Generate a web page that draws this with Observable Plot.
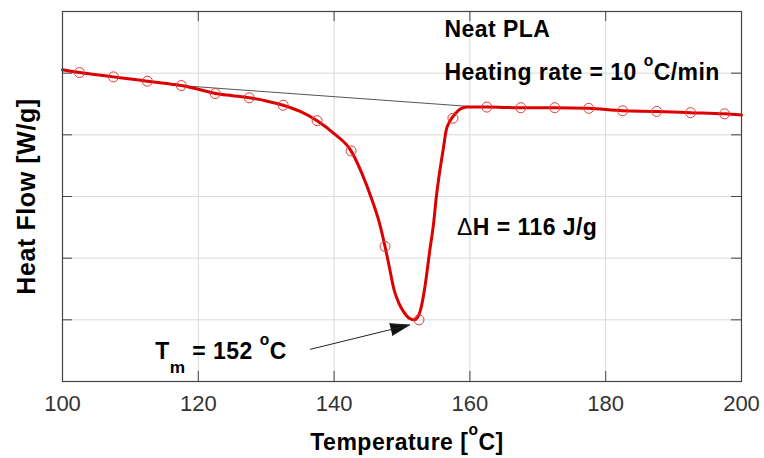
<!DOCTYPE html>
<html>
<head>
<meta charset="utf-8">
<script src="https://cdn.jsdelivr.net/npm/d3@7"></script>
<script src="https://cdn.jsdelivr.net/npm/@observablehq/plot@0.6"></script>
<style>
  body { margin: 0; background: #fff; }
  #chart { width: 764px; height: 458px; }
</style>
</head>
<body>
<div id="chart"></div>
<script>
// DSC curve of neat PLA (temperature in °C, heat flow in arbitrary grid units)
const curveT  = [100, 102.5, 105, 107.5, 110, 112.5, 115, 117.5, 120, 122.5, 125, 127.5, 130, 132.5, 135, 137.5, 140, 142.5, 144, 145.6, 146.6, 147.5, 148.2, 148.8, 149.5, 150.3, 151.0, 151.8, 152.3, 152.7, 153.3, 154.1, 154.7, 155.0, 155.66, 156.05, 156.5, 157.1, 157.9, 158.6, 159.6, 162.5, 167.5, 172.5, 177.5, 182.5, 187.5, 192.5, 197.5, 200];
const curveHF = [5.055, 5.01, 4.975, 4.94, 4.905, 4.87, 4.835, 4.80, 4.74, 4.67, 4.635, 4.60, 4.55, 4.48, 4.38, 4.23, 4.02, 3.74, 3.40, 2.94, 2.60, 2.19, 1.82, 1.50, 1.28, 1.12, 1.03, 1.00, 1.04, 1.15, 1.48, 2.13, 2.61, 2.94, 3.48, 3.75, 4.07, 4.23, 4.35, 4.42, 4.45, 4.45, 4.44, 4.44, 4.43, 4.39, 4.38, 4.36, 4.34, 4.32];

const markerT  = [102.5, 107.5, 112.5, 117.5, 122.5, 127.5, 132.5, 137.5, 142.5, 147.5, 152.5, 157.5, 162.5, 167.5, 172.5, 177.5, 182.5, 187.5, 192.5, 197.5];
const markerHF = [5.01, 4.94, 4.87, 4.80, 4.67, 4.60, 4.48, 4.23, 3.74, 2.19, 1.00, 4.27, 4.45, 4.44, 4.44, 4.43, 4.39, 4.38, 4.36, 4.34];

const baselineT  = [116, 160];
const baselineHF = [4.81, 4.46];

const xTicks = [100, 120, 140, 160, 180, 200];
const xGrid  = [120, 140, 160, 180];
const yGrid  = [1, 2, 3, 4, 5];
const xDomain = [100, 200];
const yDomain = [0, 6];

const xLabel = "Temperature [^{o}C]";
const yLabel = "Heat Flow [W/g]";

const noteText = ["Neat PLA", "Heating rate = 10 ^{o}C/min", "ΔH = 116 J/g", "T_{m} = 152 ^{o}C"];
const noteT    = [156.25, 156.25, 158.1, 113.65];
const noteHF   = [5.583, 4.882, 2.37, 0.36];

const arrowT1 = [136.5], arrowHF1 = [0.522];
const arrowT2 = [151.1], arrowHF2 = [0.916];

// ---- build tables ----
const curve = curveT.map((t, i) => ({t, hf: curveHF[i]}));
const markers = markerT.map((t, i) => ({t, hf: markerHF[i]}));
const baseline = baselineT.map((t, i) => ({t, hf: baselineHF[i]}));
const notes = noteText.map((s, i) => ({s, t: noteT[i], hf: noteHF[i]}));
const arrows = arrowT1.map((t, i) => ({t1: t, hf1: arrowHF1[i], t2: arrowT2[i], hf2: arrowHF2[i]}));

const W = 764, H = 458;
const mL = 62, mR = 23, mT = 11, mB = 77;
const tickPx = 10;
const tickDX = tickPx * (xDomain[1] - xDomain[0]) / (W - mL - mR);
const tickDY = tickPx * (yDomain[1] - yDomain[0]) / (H - mT - mB);
const axisColor = "#444";

const chart = Plot.plot({
  width: W, height: H,
  marginLeft: mL, marginRight: mR, marginTop: mT, marginBottom: mB,
  style: {fontFamily: "'Liberation Sans', Arial, sans-serif", background: "#fff", color: "#000", overflow: "visible"},
  x: {domain: xDomain},
  y: {domain: yDomain, axis: null},
  marks: [
    Plot.ruleX(xGrid, {x: d => d, stroke: "#dadada", strokeWidth: 1}),
    Plot.ruleY(yGrid, {y: d => d, stroke: "#dadada", strokeWidth: 1}),
    Plot.ruleX(xGrid, {x: d => d, y1: yDomain[0], y2: yDomain[0] + tickDY, stroke: axisColor}),
    Plot.ruleX(xGrid, {x: d => d, y1: yDomain[1] - tickDY, y2: yDomain[1], stroke: axisColor}),
    Plot.ruleY(yGrid, {y: d => d, x1: xDomain[0], x2: xDomain[0] + tickDX, stroke: axisColor}),
    Plot.ruleY(yGrid, {y: d => d, x1: xDomain[1] - tickDX, x2: xDomain[1], stroke: axisColor}),
    Plot.line(baseline, {x: "t", y: "hf", stroke: "#555", strokeWidth: 1}),
    Plot.line(curve, {x: "t", y: "hf", stroke: "#dd0000", strokeWidth: 3, curve: "monotone-x"}),
    Plot.dot(markers, {x: "t", y: "hf", r: 5, stroke: "#e03a3a", strokeWidth: 1, fill: "none"}),
    Plot.frame({stroke: axisColor, strokeWidth: 1.2}),
    Plot.axisX({ticks: xTicks, tickSize: 0, tickPadding: 14, fontSize: 22, fill: "#333", label: null}),
    Plot.arrow(arrows, {x1: "t1", y1: "hf1", x2: "t2", y2: "hf2", stroke: "#222", fill: "#111", strokeWidth: 1, headLength: 30, headAngle: 35}),
    Plot.text(notes, {x: "t", y: "hf", text: "s", textAnchor: "start", lineAnchor: "bottom", fontSize: 23, fontWeight: "bold", fill: "#000"}),
    Plot.text([xLabel], {text: d => d, frameAnchor: "bottom", textAnchor: "middle", dx: 5, dy: 68, lineAnchor: "bottom", fontSize: 23, fontWeight: "bold", fill: "#000"}),
    Plot.text([yLabel], {text: d => d, frameAnchor: "left", textAnchor: "middle", rotate: -90, dx: -28, lineAnchor: "bottom", fontSize: 25, fontWeight: "bold", fill: "#000"})
  ]
});

document.getElementById("chart").appendChild(chart);

// letter spacing to mimic the wide original lettering
const spacing = new Map([...noteText.map(s => [s, 0.45]), [xLabel, 0.5], [yLabel, 0.6]]);

// rich text: ^{..} superscript, _{..} subscript, Δ in normal weight
const SVGNS = "http://www.w3.org/2000/svg";
chart.querySelectorAll("text").forEach(t => {
  const s = t.textContent;
  if (spacing.has(s)) t.setAttribute("letter-spacing", spacing.get(s));
  if (!/[\^_]\{|Δ/.test(s)) return;
  const fs = parseFloat(getComputedStyle(t).fontSize) || 20;
  const parts = s.split(/(\^\{[^}]*\}|_\{[^}]*\}|Δ)/).filter(p => p !== "");
  t.textContent = "";
  let shift = 0;
  for (const p of parts) {
    const ts = document.createElementNS(SVGNS, "tspan");
    let target = 0;
    if (p.startsWith("^{")) {
      ts.textContent = p.slice(2, -1);
      ts.setAttribute("font-size", (fs * 0.68).toFixed(1));
      target = -0.62 * fs;
    } else if (p.startsWith("_{")) {
      ts.textContent = p.slice(2, -1);
      ts.setAttribute("font-size", (fs * 0.75).toFixed(1));
      target = 0.6 * fs;
    } else if (p === "Δ") {
      ts.textContent = p;
      ts.setAttribute("font-weight", "normal");
    } else {
      ts.textContent = p;
    }
    ts.setAttribute("dy", (target - shift).toFixed(1));
    shift = target;
    t.appendChild(ts);
  }
});
</script>
</body>
</html>
